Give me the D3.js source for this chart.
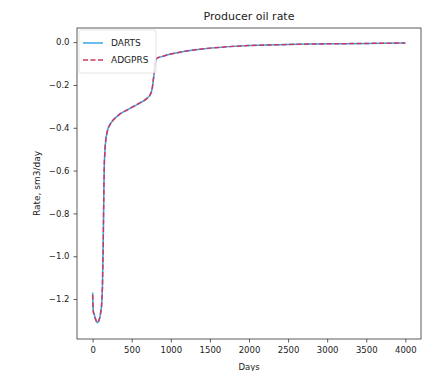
<!DOCTYPE html>
<html>
<head>
<meta charset="utf-8">
<script src="https://cdn.jsdelivr.net/npm/d3@7"></script>
<style>
  html, body { margin: 0; padding: 0; background: #fff; }
  svg { display: block; }
  text { font-family: "DejaVu Sans", sans-serif; fill: #222; }
</style>
</head>
<body>
<svg id="chart" width="429" height="371"></svg>
<script>
// Producer oil rate, DARTS vs ADGPRS (sm3/day over days)
const days = [0, 5, 10, 20, 30, 40, 50, 60, 75, 90, 105, 115, 125, 135, 140, 145, 150, 160, 170, 185,
  200, 230, 260, 300, 350, 400, 450, 500, 550, 600, 650, 700, 730, 750, 765, 775, 785, 795, 805, 815,
  830, 860, 900, 950, 1000, 1100, 1200, 1350, 1500, 1750, 2000, 2250, 2500, 2750, 3000, 3250, 3500, 3750, 4000];

const dartsRate = [-1.17, -1.24, -1.26, -1.27, -1.285, -1.295, -1.305, -1.31, -1.305, -1.29, -1.26, -1.23, -1.15, -0.95,
  -0.80, -0.66, -0.56, -0.49, -0.45, -0.42, -0.40, -0.38, -0.365, -0.35, -0.335, -0.325, -0.315, -0.305, -0.295,
  -0.285, -0.275, -0.262, -0.25, -0.235, -0.21, -0.18, -0.15, -0.115, -0.09, -0.078, -0.073, -0.07, -0.066, -0.06,
  -0.055, -0.048, -0.041, -0.034, -0.028, -0.021, -0.016, -0.013, -0.011, -0.009, -0.008, -0.007, -0.006, -0.005, -0.004];

const adgprsRate = [-1.18, -1.245, -1.262, -1.272, -1.287, -1.297, -1.306, -1.31, -1.304, -1.288, -1.258, -1.228, -1.148, -0.948,
  -0.798, -0.658, -0.558, -0.489, -0.449, -0.42, -0.40, -0.38, -0.365, -0.35, -0.335, -0.325, -0.315, -0.305, -0.295,
  -0.285, -0.275, -0.262, -0.25, -0.235, -0.21, -0.18, -0.15, -0.115, -0.09, -0.078, -0.073, -0.07, -0.066, -0.06,
  -0.055, -0.048, -0.041, -0.034, -0.028, -0.021, -0.016, -0.013, -0.011, -0.009, -0.008, -0.007, -0.006, -0.005, -0.004];

const xTicks = [0, 500, 1000, 1500, 2000, 2500, 3000, 3500, 4000];
const yTicks = [0.0, -0.2, -0.4, -0.6, -0.8, -1.0, -1.2];
const seriesNames = ["DARTS", "ADGPRS"];
const seriesColors = ["#3aa6e8", "#d0355f"];

const svg = d3.select("#chart");
const plot = { left: 77, right: 421, top: 28, bottom: 339 };

const x = d3.scaleLinear().domain([-200, 4200]).range([plot.left, plot.right]);
const y = d3.scaleLinear().domain([-1.3866, 0.066]).range([plot.bottom, plot.top]);

// axes
const xAxis = d3.axisBottom(x).tickValues(xTicks).tickSize(3.5).tickPadding(4)
  .tickFormat(d3.format("d"));
const yAxis = d3.axisLeft(y).tickValues(yTicks).tickSize(3.5).tickPadding(4)
  .tickFormat(d => d3.format(".1f")(d).replace("-", "\u2212"));

const gx = svg.append("g").attr("transform", `translate(0,${plot.bottom})`).call(xAxis);
const gy = svg.append("g").attr("transform", `translate(${plot.left},0)`).call(yAxis);
[gx, gy].forEach(g => {
  g.select(".domain").remove();
  g.selectAll(".tick line").attr("stroke", "#333").attr("stroke-width", 0.8);
  g.selectAll(".tick text").attr("font-size", 8.5).attr("fill", "#222")
    .attr("font-family", "DejaVu Sans, sans-serif");
});

// plot frame
svg.append("rect")
  .attr("x", plot.left).attr("y", plot.top)
  .attr("width", plot.right - plot.left).attr("height", plot.bottom - plot.top)
  .attr("fill", "none").attr("stroke", "#333").attr("stroke-width", 0.8);

// series lines
const line = vals => d3.line()
  .x((d, i) => x(days[i]))
  .y(d => y(d))(vals);

svg.append("path").attr("d", line(dartsRate))
  .attr("fill", "none").attr("stroke", seriesColors[0]).attr("stroke-width", 1.5);
svg.append("path").attr("d", line(adgprsRate))
  .attr("fill", "none").attr("stroke", seriesColors[1]).attr("stroke-width", 1.5)
  .attr("stroke-dasharray", "5,2.5");

// legend
const lg = svg.append("g");
lg.append("rect").attr("x", 79).attr("y", 30).attr("width", 77).attr("height", 43)
  .attr("rx", 2).attr("fill", "#fff").attr("fill-opacity", 0.8)
  .attr("stroke", "#ddd").attr("stroke-width", 0.8);
seriesNames.forEach((name, i) => {
  const ly = 43 + i * 17;
  lg.append("line").attr("x1", 83).attr("x2", 103).attr("y1", ly).attr("y2", ly)
    .attr("stroke", seriesColors[i]).attr("stroke-width", 1.5)
    .attr("stroke-dasharray", i === 1 ? "5,2.5" : null);
  lg.append("text").attr("x", 111).attr("y", ly).attr("dy", "0.35em")
    .attr("font-size", 9).text(name);
});

// title and axis labels
svg.append("text").attr("x", (plot.left + plot.right) / 2).attr("y", 20)
  .attr("text-anchor", "middle").attr("font-size", 11).text("Producer oil rate");
svg.append("text").attr("x", (plot.left + plot.right) / 2).attr("y", 370)
  .attr("text-anchor", "middle").attr("font-size", 8.5).text("Days");
svg.append("text")
  .attr("transform", `translate(40,${(plot.top + plot.bottom) / 2}) rotate(-90)`)
  .attr("text-anchor", "middle").attr("font-size", 9).text("Rate, sm3/day");
</script>
</body>
</html>
